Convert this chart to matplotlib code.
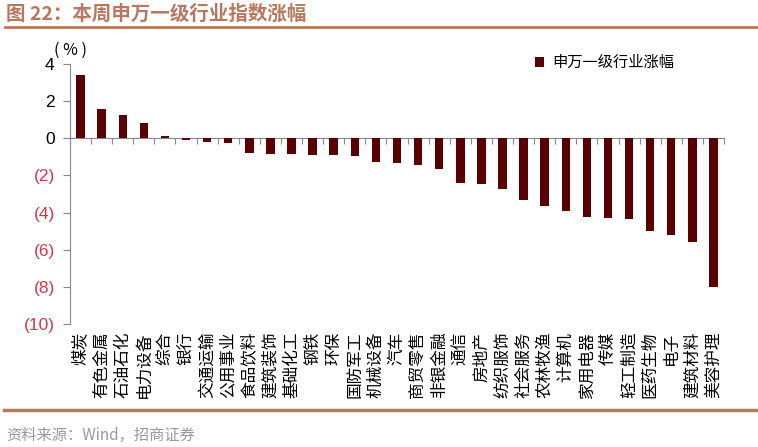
import matplotlib
matplotlib.use("Agg")
import matplotlib.pyplot as plt
import matplotlib.transforms as mtransforms
import numpy as np

plt.rcParams['font.family'] = ['Noto Sans CJK SC', 'DejaVu Sans']

# 申万一级行业本周涨幅 (%)
industries = ["煤炭", "有色金属", "石油石化", "电力设备", "综合", "银行", "交通运输", "公用事业",
              "食品饮料", "建筑装饰", "基础化工", "钢铁", "环保", "国防军工", "机械设备", "汽车",
              "商贸零售", "非银金融", "通信", "房地产", "纺织服饰", "社会服务", "农林牧渔", "计算机",
              "家用电器", "传媒", "轻工制造", "医药生物", "电子", "建筑材料", "美容护理"]
changes = [3.40, 1.56, 1.24, 0.81, 0.10, -0.10, -0.20, -0.25,
           -0.79, -0.82, -0.84, -0.89, -0.91, -0.96, -1.27, -1.31,
           -1.43, -1.68, -2.40, -2.47, -2.74, -3.31, -3.63, -3.94,
           -4.26, -4.29, -4.35, -5.00, -5.20, -5.58, -8.00]
yticks = [4, 2, 0, -2, -4, -6, -8, -10]
ytick_labels = ["4", "2", "0", "(2)", "(4)", "(6)", "(8)", "(10)"]

bar_color = "#5a0000"
brown = "#b8775f"
red = "#d0384a"

fig = plt.figure(figsize=(7.58, 4.47), dpi=100)
ax = fig.add_axes([70 / 758, 1 - 324 / 447, 654 / 758, 260 / 447])

x = np.arange(len(industries))
ax.bar(x, changes, width=0.4, color=bar_color, label="申万一级行业涨幅", zorder=3)

ax.set_xlim(-0.5, len(industries) - 0.5)
ax.set_ylim(-10, 4)

for s in ["top", "right"]:
    ax.spines[s].set_visible(False)
ax.spines["left"].set_color("#888888")
ax.spines["bottom"].set_color("#888888")
ax.spines["bottom"].set_position(("data", 0))

ax.set_xticks(np.arange(len(industries) + 1) - 0.5)
ax.set_xticklabels([])
ax.tick_params(axis="x", direction="out", length=4, color="#888888")

ax.set_yticks(yticks)
ax.set_yticklabels(ytick_labels, family=["Liberation Sans", "DejaVu Sans"], fontsize=12.5)
ax.tick_params(axis="y", direction="out", length=5, color="#888888", pad=6)
for lab, v in zip(ax.get_yticklabels(), yticks):
    lab.set_color(red if v < 0 else "black")

# rotated category labels, top aligned below the plot
trans = mtransforms.blended_transform_factory(ax.transData, ax.transAxes)
for i, name in enumerate(industries):
    ax.text(i, -0.03, name, transform=trans, rotation=90, ha="center", va="top",
            fontsize=12, color="black")

ax.text(-0.5, 4.3, "( % )", ha="center", va="bottom", fontsize=11.5, color="black")

ax.legend(loc="upper left", bbox_to_anchor=(0.69, 1.09), frameon=False, fontsize=11,
          handlelength=0.6, handleheight=0.6, handletextpad=0.5)

# header and footer
fig.text(6 / 758, 1 - 14 / 447, "图 22：本周申万一级行业指数涨幅", ha="left", va="center",
         fontsize=14, fontweight="bold", color=brown)
fig.add_artist(plt.Line2D([5 / 758, 1], [1 - 27 / 447] * 2, color=brown, lw=2))
fig.add_artist(plt.Line2D([4 / 758, 1], [1 - 410 / 447] * 2, color=brown, lw=2.5))
fig.text(6 / 758, 1 - 435 / 447, "资料来源：Wind，招商证券", ha="left", va="center",
         fontsize=11, color="#999999")

fig.savefig("out.png", dpi=100)
